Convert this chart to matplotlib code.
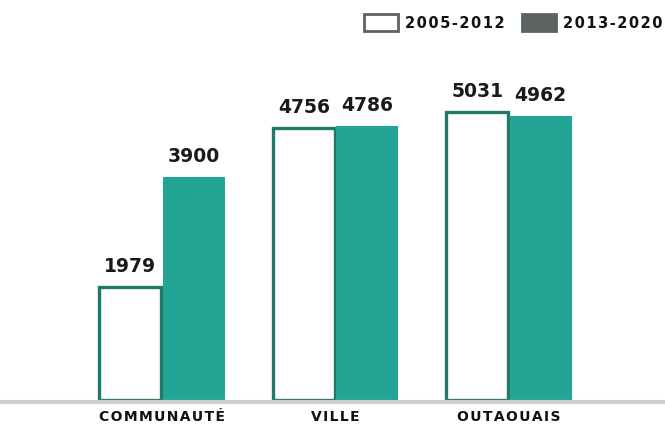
import matplotlib.pyplot as plt
from matplotlib.patches import Rectangle
import numpy as np

categories = ["COMMUNAUTÉ", "VILLE", "OUTAOUAIS"]
periods = ["2005-2012", "2013-2020"]
values_2005_2012 = [1979, 4756, 5031]
values_2013_2020 = [3900, 4786, 4962]

TEAL = "#22a594"
TEAL_DARK = "#1f7a6a"
LEGEND_GRAY = "#5d6262"

W, H = 665, 425


def spaced(text, gap="\u200a"):
    # letter-spaced labels
    return gap.join(text)


fig = plt.figure(figsize=(W / 100, H / 100), dpi=100)
ax = fig.add_axes([0, 25 / H, 1, 400 / H])

x = np.arange(len(categories))
width = 0.357
offset = 0.182

old = ax.bar(x - offset, values_2005_2012, width, color="white",
             edgecolor=TEAL_DARK, linewidth=2.4)
new = ax.bar(x + offset, values_2013_2020, width, color=TEAL, linewidth=0)

for bars, vals in [(old, values_2005_2012), (new, values_2013_2020)]:
    for b, v in zip(bars, vals):
        ax.text(b.get_x() + b.get_width() / 2, v + 190, str(v),
                ha="center", va="bottom", fontsize=13.5, fontweight="bold",
                color="#1a1a1a")

ax.set_xlim(-162 / 173.5, 503 / 173.5)
ax.set_ylim(0, 400 / 0.0572)

for side in ["top", "left", "right"]:
    ax.spines[side].set_visible(False)
ax.spines["bottom"].set_color("#cfcfcf")
ax.spines["bottom"].set_linewidth(3)
ax.spines["bottom"].set_position(("outward", 1.5))
ax.set_yticks([])
ax.set_xticks(x)
ax.set_xticklabels([spaced(c) for c in categories], fontsize=10,
                   fontweight="heavy", color="#111111")
ax.tick_params(axis="x", length=0, pad=6)

# legend drawn by hand in pixel positions
legend_items = [
    (364, "white", periods[0]),
    (522, LEGEND_GRAY, periods[1]),
]
for left, face, label in legend_items:
    fig.add_artist(Rectangle((left / W, 1 - 31 / H), 34 / W, 17 / H,
                             transform=fig.transFigure, facecolor=face,
                             edgecolor=LEGEND_GRAY, linewidth=2))
    fig.text((left + 41) / W, 1 - 23 / H, spaced(label),
             ha="left", va="center", fontsize=10.5, fontweight="bold",
             color="#111111")

fig.savefig("out.png", dpi=100)
